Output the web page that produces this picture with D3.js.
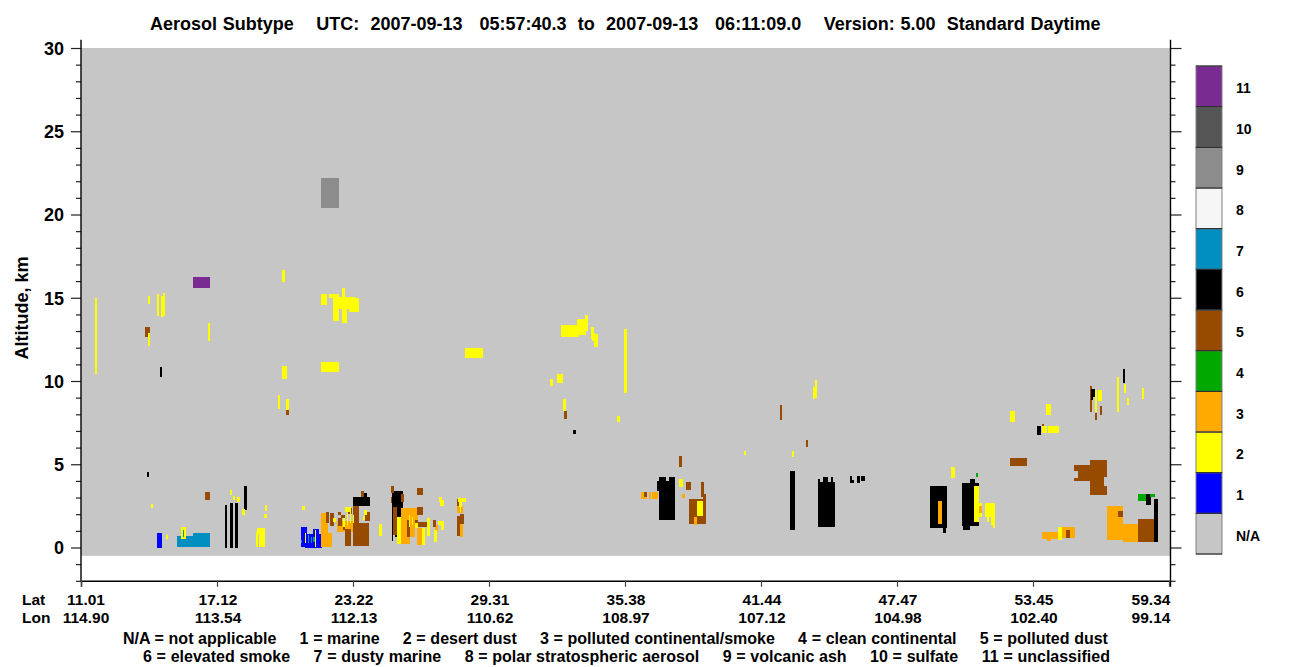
<!DOCTYPE html>
<html>
<head>
<meta charset="utf-8">
<title>Aerosol Subtype</title>
<script src="https://cdnjs.cloudflare.com/ajax/libs/d3/7.8.5/d3.min.js"></script>
<style>
  body { margin: 0; background: #fff; }
  svg { display: block; }
  text { font-family: "Liberation Sans", Arial, sans-serif; font-weight: bold; fill: #000; white-space: pre; }
</style>
</head>
<body>
<div class="canvas"></div>
<script>
const width = 1300;
const height = 667;

// Along-track profile number where each axis label sits
const tickProfiles = [0, 136, 272, 408, 544, 680, 816, 952, 1088];
const lats = ["11.01", "17.12", "23.22", "29.31", "35.38", "41.44", "47.47", "53.45", "59.34"];
const lons = ["114.90", "113.54", "112.13", "110.62", "108.97", "107.12", "104.98", "102.40", "99.14"];

const legendLabels = ["N/A", "1", "2", "3", "4", "5", "6", "7", "8", "9", "10", "11"];
const legendColors = ["#c6c6c6", "#0000ff", "#ffff00", "#ffaa00", "#00a800", "#964b00", "#000000", "#008fc0", "#f5f5f5", "#8c8c8c", "#555555", "#7a2b92"];

const titleText = "Aerosol Subtype    UTC:  2007-09-13   05:57:40.3  to  2007-09-13   06:11:09.0    Version: 5.00  Standard Daytime";
const keyRow1 = "N/A = not applicable     1 = marine     2 = desert dust     3 = polluted continental/smoke     4 = clean continental     5 = polluted dust";
const keyRow2 = "6 = elevated smoke     7 = dusty marine     8 = polar stratospheric aerosol     9 = volcanic ash     10 = sulfate     11 = unclassified";

// Layers per subtype: [first profile, last profile, base km, top km]
const marine = [
  [76, 81, -0.03, 0.87], [220, 226, 0.03, 1.23], [224, 241, -0.03, 0.81], [232, 238, 0.81, 1.11]
];
const dustyMarine = [
  [96, 129, 0.03, 0.69], [112, 129, 0.69, 0.87], [102, 103, 0.63, 1.05],
  [220, 221, 0.27, 0.45], [227, 228, 0.27, 0.75], [230, 231, 0.27, 0.63], [232, 235, 0.33, 0.63]
];
const elevatedSmoke = [
  [66, 68, 4.23, 4.53], [79, 81, 10.23, 10.83], [144, 146, -0.03, 2.55], [149, 152, -0.03, 2.67],
  [154, 157, -0.03, 2.67], [163, 166, 2.25, 3.69], [272, 289, 2.49, 3.03], [280, 286, 3.03, 3.27],
  [311, 322, 1.83, 3.39], [311, 312, 0.39, 1.83], [314, 322, 0.63, 1.83], [492, 495, 6.81, 7.05],
  [578, 585, 1.65, 4.23], [585, 588, 1.65, 3.99], [588, 594, 1.65, 4.23], [576, 578, 3.39, 3.99],
  [709, 714, 1.05, 4.59], [737, 754, 1.23, 3.93], [742, 747, 3.93, 4.23], [750, 752, 3.93, 4.23],
  [737, 739, 3.93, 4.11], [769, 771, 3.87, 4.29], [771, 773, 3.87, 4.05], [776, 779, 3.87, 4.29],
  [780, 784, 3.99, 4.29], [849, 866, 1.17, 3.69], [862, 865, 0.87, 1.17], [881, 898, 1.29, 3.87],
  [889, 894, 3.87, 4.11], [882, 889, 1.05, 1.29], [956, 960, 6.75, 7.29], [1010, 1014, 9.03, 9.51],
  [1010, 1012, 8.85, 9.03], [1042, 1044, 9.87, 10.71], [1065, 1070, 2.55, 3.21], [1073, 1077, 0.33, 2.91]
];
const pollutedContinental = [
  [240, 245, 0.03, 2.07], [245, 251, 0.03, 0.87], [245, 247, 0.87, 1.47], [256, 272, 0.93, 1.59],
  [320, 337, 1.23, 2.37], [320, 329, 0.21, 1.23], [329, 334, 0.63, 1.23], [336, 341, 0.15, 1.17],
  [354, 357, 0.99, 1.35], [376, 382, 2.07, 2.49], [379, 382, 0.63, 1.41], [560, 566, 2.91, 3.33],
  [568, 570, 2.91, 3.33], [571, 577, 2.91, 3.33], [601, 604, 2.97, 3.21], [613, 616, 1.35, 1.83],
  [857, 861, 1.41, 2.79], [897, 901, 2.07, 2.49], [961, 977, 0.51, 0.93], [966, 970, 0.39, 0.51],
  [981, 994, 0.57, 1.23], [1026, 1042, 0.45, 2.49], [1042, 1057, 0.33, 1.41]
];
const pollutedDust = [
  [124, 129, 2.85, 3.33], [64, 69, 12.63, 13.23], [205, 208, 7.95, 8.25], [245, 248, 1.47, 2.13],
  [249, 253, 1.29, 2.07], [257, 260, 1.95, 2.13], [260, 264, 1.77, 1.95], [257, 261, 1.29, 1.77],
  [262, 264, 1.05, 1.77], [264, 270, 0.09, 1.11], [272, 288, 0.09, 1.47], [272, 278, 1.47, 2.49],
  [267, 271, 2.01, 2.37], [280, 283, 3.03, 3.39], [284, 289, 1.59, 2.13], [310, 313, 3.27, 3.69],
  [320, 323, 2.73, 3.21], [310, 311, 2.67, 3.03], [312, 316, 0.75, 2.43], [336, 342, 3.15, 3.57],
  [336, 342, 1.95, 2.43], [326, 329, 0.63, 1.65], [334, 337, 1.17, 1.65], [337, 346, 1.23, 1.53],
  [352, 355, 1.23, 1.65], [376, 378, 2.49, 2.91], [376, 379, 0.69, 1.89], [379, 383, 1.41, 2.01],
  [483, 486, 7.71, 8.19], [563, 566, 3.03, 3.33], [598, 601, 4.83, 5.49], [605, 610, 3.45, 3.93],
  [620, 623, 3.03, 3.93], [608, 613, 1.41, 2.91], [613, 616, 1.83, 2.91], [616, 625, 1.41, 2.91],
  [622, 625, 2.91, 3.21], [699, 701, 7.65, 8.55], [725, 727, 6.03, 6.45], [961, 963, 7.05, 7.41],
  [929, 946, 4.89, 5.37], [1009, 1023, 3.15, 5.25], [1023, 1026, 4.23, 5.25], [1023, 1026, 3.15, 3.69],
  [993, 1009, 4.59, 4.95], [997, 1009, 4.17, 4.59], [993, 1009, 3.99, 4.17], [1037, 1042, 1.83, 2.19],
  [1057, 1073, 0.33, 1.71], [985, 989, 0.57, 1.05], [1009, 1010, 8.13, 9.69], [1010, 1011, 8.13, 8.85],
  [1010, 1011, 9.51, 9.69], [1014, 1016, 7.65, 8.07], [1019, 1021, 7.95, 8.49]
];
const desertDust = [
  [14, 16, 10.41, 14.97], [67, 69, 14.61, 15.09], [76, 78, 13.89, 15.21], [80, 82, 13.83, 15.09],
  [82, 84, 13.89, 15.27], [67, 69, 12.09, 12.87], [127, 129, 12.39, 13.47], [201, 204, 15.93, 16.65],
  [201, 206, 10.11, 10.89], [197, 199, 8.31, 9.15], [205, 208, 8.25, 8.91], [240, 246, 14.55, 15.21],
  [248, 258, 14.97, 15.21], [252, 274, 14.31, 15.03], [252, 258, 13.59, 14.31], [261, 264, 15.03, 15.57],
  [261, 266, 13.47, 14.31], [268, 278, 14.13, 14.97], [240, 258, 10.53, 11.13], [384, 402, 11.37, 11.97],
  [480, 498, 12.63, 13.35], [496, 505, 12.75, 13.71], [504, 507, 12.99, 13.95], [510, 513, 12.51, 13.23],
  [511, 514, 12.39, 12.87], [513, 517, 12.03, 12.81], [543, 546, 9.27, 13.11], [476, 482, 9.87, 10.41],
  [469, 472, 9.69, 10.11], [482, 485, 8.19, 8.91], [536, 539, 7.53, 7.89], [734, 736, 8.97, 10.05],
  [732, 734, 8.91, 9.63], [663, 665, 5.55, 5.79], [711, 713, 5.43, 5.79], [870, 874, 4.17, 4.83],
  [929, 934, 7.53, 8.19], [965, 970, 7.95, 8.61], [961, 966, 6.87, 7.29], [967, 978, 6.87, 7.29],
  [1014, 1016, 8.13, 9.45], [1017, 1021, 8.79, 9.45], [1036, 1038, 8.13, 10.23], [1043, 1045, 9.27, 9.81],
  [1046, 1048, 8.55, 8.97], [1061, 1063, 8.91, 9.57], [977, 981, 0.45, 1.23],
  [70, 72, 2.37, 2.61], [85, 87, 0.51, 0.75], [100, 102, 0.51, 1.23], [103, 105, 0.51, 1.23],
  [102, 103, 1.05, 1.23], [102, 103, 0.51, 0.63], [149, 151, 3.15, 3.45], [152, 154, 2.85, 3.09],
  [156, 159, 2.73, 3.03], [161, 164, 1.95, 2.31], [184, 186, 2.19, 2.55], [183, 186, 1.77, 2.01],
  [175, 177, 0.03, 0.93], [178, 184, 0.03, 0.81], [176, 184, 0.81, 1.17], [221, 224, 2.25, 2.49],
  [224, 225, 0.27, 0.87], [234, 235, 0.03, 1.05], [252, 255, 1.53, 1.77], [264, 270, 2.13, 2.43],
  [266, 267, 1.35, 2.07], [269, 270, 1.47, 2.13], [272, 273, 1.47, 1.95], [262, 264, 1.23, 1.77],
  [283, 286, 1.95, 2.25], [282, 284, 1.65, 1.89], [298, 301, 0.69, 1.41], [316, 320, 0.21, 1.83],
  [328, 329, 1.23, 1.95], [331, 332, 1.35, 1.83], [334, 337, 1.17, 1.47], [341, 344, 0.15, 1.17],
  [346, 349, 0.69, 1.77], [353, 356, 0.33, 1.05], [357, 363, 1.35, 1.59], [360, 363, 1.05, 1.35],
  [358, 361, 2.73, 3.03], [359, 363, 2.49, 2.85], [377, 385, 2.73, 2.97], [378, 381, 2.43, 2.73],
  [379, 380, 2.13, 2.43], [598, 602, 3.63, 4.11], [616, 622, 1.89, 2.79], [893, 898, 1.53, 3.69],
  [898, 901, 2.49, 2.67], [898, 901, 1.83, 2.07], [904, 914, 1.83, 2.67], [906, 908, 1.53, 1.83],
  [910, 914, 1.35, 1.83], [912, 914, 1.17, 1.35]
];
const cleanContinental = [[895, 897, 4.23, 4.47], [1057, 1065, 2.79, 3.21], [1069, 1074, 3.03, 3.21]];
const volcanicAsh = [[240, 258, 20.4, 22.2]];
const unclassified = [[112, 129, 15.57, 16.23]];

// Scales
const xScale = d3.scaleLinear().domain([0, 1089]).range([81, 1170]);
const yScale = d3.scaleLinear().domain([-2, 30]).range([580.8, 48]);
const legendScale = d3.scaleBand().domain(legendLabels).range([554, 66]);

const svg = d3
  .select(".canvas")
  .append("svg")
  .attr("width", width)
  .attr("height", height);

// Background where the product has no layer
svg
  .append("rect")
  .attr("x", xScale(0))
  .attr("y", yScale(30))
  .attr("width", xScale(1089) - xScale(0))
  .attr("height", yScale(-0.5) - yScale(30))
  .attr("fill", legendColors[0]);

// Layers, drawn in this order so the overlaps come out right
const drawLayers = (rows, color) => {
  svg
    .append("g")
    .attr("shape-rendering", "crispEdges")
    .selectAll("rect")
    .data(rows)
    .enter()
    .append("rect")
    .attr("x", d => xScale(d[0]))
    .attr("y", d => yScale(d[3]))
    .attr("width", d => xScale(d[1]) - xScale(d[0]))
    .attr("height", d => yScale(d[2]) - yScale(d[3]))
    .attr("fill", color);
};
drawLayers(marine, legendColors[1]);
drawLayers(dustyMarine, legendColors[7]);
drawLayers(elevatedSmoke, legendColors[6]);
drawLayers(pollutedContinental, legendColors[3]);
drawLayers(pollutedDust, legendColors[5]);
drawLayers(desertDust, legendColors[2]);
drawLayers(cleanContinental, legendColors[4]);
drawLayers(volcanicAsh, legendColors[9]);
drawLayers(unclassified, legendColors[11]);

// Axes
const majorKm = d3.range(0, 31, 5);
const minorKm = d3.range(-2, 30).filter(d => d % 5 !== 0);

const drawAxis = (axisFn, pos, values, size, fmt) => {
  const g = svg
    .append("g")
    .attr("transform", `translate(${pos},0)`)
    .call(axisFn(yScale).tickValues(values).tickSize(size).tickFormat(fmt));
  g.select(".domain").remove();
  g.selectAll("line").attr("stroke", "#222").attr("stroke-width", 1.2);
  return g;
};
drawAxis(d3.axisLeft, 81, minorKm, 5, "");
drawAxis(d3.axisRight, 1170.5, minorKm, 5, "");
drawAxis(d3.axisRight, 1170.5, majorKm, 11, "");
drawAxis(d3.axisLeft, 81, majorKm, 10, d => d)
  .selectAll("text")
  .attr("x", -17)
  .attr("dy", "0.36em")
  .style("font-size", "18px");

[81, 1170.5].forEach(xPos => {
  svg
    .append("line")
    .attr("x1", xPos)
    .attr("x2", xPos)
    .attr("y1", yScale(30.5))
    .attr("y2", yScale(-2))
    .attr("stroke", "#000")
    .attr("stroke-width", 1.4);
});

const bottomAxis = svg
  .append("g")
  .attr("transform", `translate(0,${yScale(-2)})`)
  .call(d3.axisBottom(xScale).tickValues(tickProfiles).tickSize(6).tickFormat(""));
bottomAxis.select(".domain").attr("stroke", "#000").attr("stroke-width", 1.4);
bottomAxis.selectAll("line").attr("stroke", "#444").attr("stroke-width", 1.2);

// Title and axis text
svg
  .append("text")
  .attr("x", 150)
  .attr("y", 30)
  .style("font-size", "18px")
  .style("word-spacing", "0.64px")
  .text(titleText);

svg
  .append("text")
  .attr("transform", "translate(28,308) rotate(-90)")
  .attr("text-anchor", "middle")
  .style("font-size", "18px")
  .text("Altitude, km");

svg.append("text").attr("x", 22).attr("y", 605).style("font-size", "15.5px").text("Lat");
svg.append("text").attr("x", 22).attr("y", 623).style("font-size", "15.5px").text("Lon");

const labelX = (d, i) => {
  if (i === 0) return xScale(d) + 5;
  if (i === tickProfiles.length - 1) return xScale(d) - 18;
  return xScale(d) + 1;
};

[[lats, 605], [lons, 623]].forEach(([labels, yPos]) => {
  svg
    .append("g")
    .selectAll("text")
    .data(tickProfiles)
    .enter()
    .append("text")
    .attr("x", labelX)
    .attr("y", yPos)
    .attr("text-anchor", "middle")
    .style("font-size", "15.5px")
    .text((d, i) => labels[i]);
});

svg.append("text").attr("x", 123).attr("y", 644).style("font-size", "16px").style("word-spacing", "0.2px").text(keyRow1);
svg.append("text").attr("x", 143).attr("y", 662).style("font-size", "16px").style("word-spacing", "0.26px").text(keyRow2);

// Colour key
const key = svg.append("g");
key
  .selectAll("rect")
  .data(legendLabels)
  .enter()
  .append("rect")
  .attr("x", 1196)
  .attr("y", d => legendScale(d))
  .attr("width", 26)
  .attr("height", legendScale.bandwidth())
  .attr("fill", (d, i) => legendColors[i])
  .attr("stroke", "#808080")
  .attr("stroke-width", 1);
key
  .selectAll("line")
  .data(legendLabels.concat("end"))
  .enter()
  .append("line")
  .attr("x1", 1196)
  .attr("x2", 1222)
  .attr("y1", d => (d === "end" ? 66 : legendScale(d) + legendScale.bandwidth()))
  .attr("y2", d => (d === "end" ? 66 : legendScale(d) + legendScale.bandwidth()))
  .attr("stroke", "#222")
  .attr("stroke-width", 1);
key
  .selectAll("text")
  .data(legendLabels)
  .enter()
  .append("text")
  .attr("x", 1236)
  .attr("y", d => legendScale(d) + legendScale.bandwidth() / 2 + 7)
  .style("font-size", "14px")
  .text(d => d);
</script>
</body>
</html>
